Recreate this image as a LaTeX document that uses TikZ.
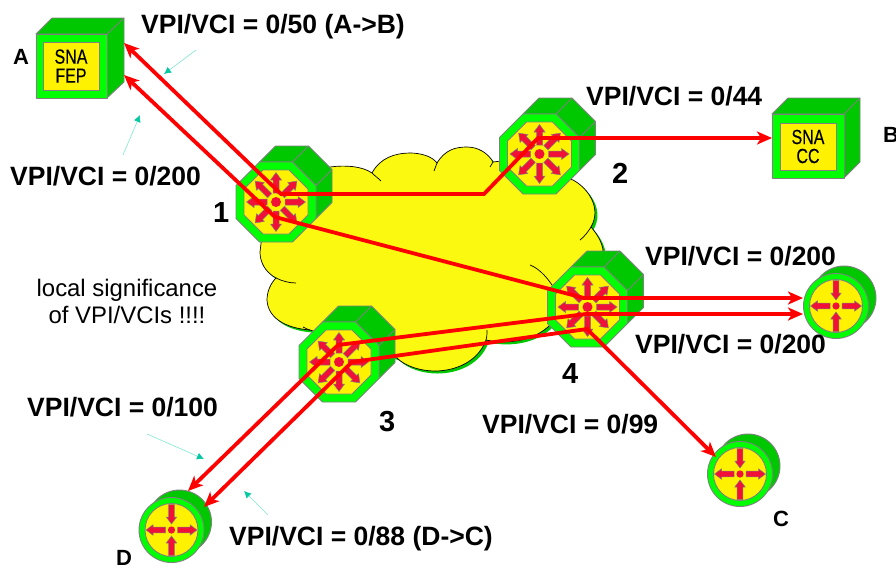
\documentclass[tikz,border=0pt]{standalone}
\usepackage{fontspec}
\setmainfont{Liberation Sans}
\newfontfamily\narrowfont[FakeStretch=0.78,FakeBold=0.35]{Liberation Sans}
\usetikzlibrary{arrows.meta,calc}
\definecolor{litegreen}{HTML}{00FF00}
\definecolor{darkgreen}{HTML}{00C800}
\definecolor{cloudyellow}{HTML}{FBF90F}
\definecolor{edgegray}{HTML}{808080}
\definecolor{iconred}{HTML}{F01038}
\definecolor{noteteal}{HTML}{00C8A0}
\definecolor{notelight}{HTML}{80E8D0}
\tikzset{
  edgeline/.style={draw=edgegray,line width=0.9pt,line join=round},
  iconarrow/.style={fill=iconred,draw=edgegray,line width=0.5pt,line join=miter},
  redtip/.tip={Stealth[length=15pt,width=13pt,inset=4pt]},
  circuit/.style={draw=red,line width=3.8pt,line join=miter,redtip-redtip},
  note/.style={draw=notelight,line width=0.6pt,-{Latex[length=7pt,width=7pt,color=noteteal]}},
  lab/.style={anchor=base west,inner sep=0pt,font=\fontsize{26.5}{26.5}\selectfont\bfseries},
  numlab/.style={anchor=base west,inner sep=0pt,font=\fontsize{29}{29}\selectfont\bfseries},
  letter/.style={anchor=base west,inner sep=0pt,font=\fontsize{22}{22}\selectfont\bfseries},
  plain/.style={anchor=base,inner sep=0pt,font=\fontsize{23.9}{24}\selectfont},
  boxtext/.style={align=center,inner sep=0pt,font=\fontsize{20.5}{19}\narrowfont},
  octswitch/.pic={
    \path[fill=darkgreen,edgeline] (-16.5,-40)--(-0.5,-56)--(32.5,-56)--(56,-32.5)--(56,0.5)--(40,16.5)--(40,-16.5)--(16.5,-40)--cycle;
    \draw[edgeline] (16.5,-40)--(32.5,-56) (40,-16.5)--(56,-32.5);
    \path[fill=litegreen,edgeline] (-16.5,-40)--(16.5,-40)--(40,-16.5)--(40,16.5)--(16.5,40)--(-16.5,40)--(-40,16.5)--(-40,-16.5)--cycle;
    \path[fill=yellow,edgeline] (-13,-32)--(13,-32)--(32,-13)--(32,13)--(13,32)--(-13,32)--(-32,13)--(-32,-13)--cycle;
    \foreach \a in {0,45,...,315}{
      \path[iconarrow,rotate=\a] (9,-3)--(22,-3)--(22,-5.5)--(29.5,0)--(22,5.5)--(22,3)--(9,3)--cycle;
    }
    \fill[iconred] (0,0) circle (5);
  },
  roundrouter/.pic={
    \path[fill=darkgreen,edgeline] (8,-8) circle (32);
    \path[fill=litegreen,edgeline] (0,0) circle (32.5);
    \path[fill=yellow,edgeline] (0,0) circle (26.5);
    \foreach \a in {0,180}{
      \path[iconarrow,rotate=\a] (6,-2.8)--(18.5,-2.8)--(18.5,-5.2)--(25.5,0)--(18.5,5.2)--(18.5,2.8)--(6,2.8)--cycle;
    }
    \foreach \a in {90,270}{
      \path[iconarrow,rotate=\a] (25.5,-2.8)--(13,-2.8)--(13,-5.2)--(6,0)--(13,5.2)--(13,2.8)--(25.5,2.8)--cycle;
    }
    \fill[iconred] (0,0) circle (3.6);
  },
}
\begin{document}
\begin{tikzpicture}[x=1pt,y=-1pt]
\useasboundingbox (0,0) rectangle (896,565);
% cloud
\def\cloudpath{
  (330,167) .. controls (345,165) and (362,166) .. (372,173)
  .. controls (380,158) and (395,153) .. (410,153)
  .. controls (420,153) and (432,156) .. (437,163)
  .. controls (445,150) and (455,147) .. (467,147)
  .. controls (478,147) and (488,153) .. (493,162)
  -- (510,160) -- (573,180)
  .. controls (588,188) and (602,208) .. (591,227)
  .. controls (598,235) and (602,243) .. (603,250)
  -- (590,300) -- (550,325)
  .. controls (535,340) and (510,345) .. (486,340)
  .. controls (478,362) and (455,371) .. (435,371)
  .. controls (420,371) and (405,366) .. (397,358)
  -- (340,340) -- (310,330)
  .. controls (285,328) and (268,318) .. (267,300)
  .. controls (267,291) and (271,283) .. (276,278)
  .. controls (265,272) and (260,262) .. (260,252)
  -- (262,235) -- (300,180) -- cycle}
\fill[darkgreen,shift={(2.5,2.5)}] \cloudpath;
\path[fill=cloudyellow,draw=black,line width=0.7pt] \cloudpath;
\draw[black,line width=0.7pt]
  (372,173) .. controls (375,176) and (378,178) .. (381,181)
  (437,163) .. controls (436,166) and (435,168) .. (434,171)
  (493,162) .. controls (492,164) and (491,165) .. (490,167)
  (591,227) .. controls (588,232) and (584,237) .. (580,240)
  (530,265) .. controls (538,268) and (546,276) .. (552,285)
  (276,278) .. controls (282,281) and (289,283) .. (296,283)
  (310,330) .. controls (308,329) and (306,329) .. (303,327)
  (486,340) .. controls (487,337) and (487,333) .. (487,330);
% devices
\coordinate (sw1) at (276,202);
\coordinate (sw2) at (539.5,154);
\coordinate (sw3) at (339,362);
\coordinate (sw4) at (587.5,307);
\pic at (sw1) {octswitch};
\pic at (sw2) {octswitch};
\pic at (sw3) {octswitch};
\pic at (sw4) {octswitch};
\coordinate (rtE) at (836,306);
\coordinate (rtC) at (740,474);
\coordinate (rtD) at (171.5,530);
\pic at (rtE) {roundrouter};
\pic at (rtC) {roundrouter};
\pic at (rtD) {roundrouter};
% SNA boxes
\path[fill=darkgreen,edgeline] (36,34)--(52,18)--(124,18)--(124,82)--(107,98)--(107,34)--cycle;
\draw[edgeline] (107,34)--(124,18);
\path[fill=litegreen,edgeline] (36,34) rectangle (107,98);
\node[fill=yellow,draw=edgegray,line width=0.9pt,minimum width=56pt,minimum height=48pt,inner sep=0pt] (fep) at (71,66) {};
\node[boxtext] (feptext) at (71,66) {SNA\\FEP};
\path[fill=darkgreen,edgeline] (772,114)--(788,98)--(860,98)--(860,162)--(844,178)--(844,114)--cycle;
\draw[edgeline] (844,114)--(860,98);
\path[fill=litegreen,edgeline] (772,114) rectangle (844,178);
\node[fill=yellow,draw=edgegray,line width=0.9pt,minimum width=56pt,minimum height=47pt,inner sep=0pt] (cc) at (808,146.5) {};
\node[boxtext] (cctext) at (808,146.5) {SNA\\CC};
% circuit ports
\coordinate (pA1) at (124,43);
\coordinate (pA2) at (124,75);
\coordinate (pB) at (772,138);
\coordinate (pE1) at (803,298);
\coordinate (pE2) at (803,314);
\coordinate (pC) at (716,457);
\coordinate (pD1) at (188,491);
\coordinate (pD2) at (204,507);
\coordinate (j1a) at (281,194);
\coordinate (j1b) at (484,194);
\coordinate (j2) at (538,138);
\coordinate (j1c) at (275,217);
\coordinate (j4a) at (584,298);
\coordinate (j3a) at (338,345);
\coordinate (j4b) at (586,314);
\coordinate (j3b) at (352,362);
\coordinate (j4c) at (587,329);
% circuits
\draw[circuit] (pA1) -- (j1a) -- (j1b) -- (j2) -- (pB);
\draw[circuit] (pA2) -- (j1c) -- (j4a) -- (pE1);
\draw[circuit] (pD1) -- (j3a) -- (j4b) -- (pE2);
\draw[circuit] (pD2) -- (j3b) -- (j4c) -- (pC);
% annotation arrows
\coordinate (n1s) at (196,50); \coordinate (n1e) at (164,74);
\coordinate (n2s) at (123,155); \coordinate (n2e) at (140,115);
\coordinate (n3s) at (147,434); \coordinate (n3e) at (204,459);
\coordinate (n4s) at (268,515); \coordinate (n4e) at (244,491);
\draw[note] (n1s) -- (n1e);
\draw[note] (n2s) -- (n2e);
\draw[note] (n3s) -- (n3e);
\draw[note] (n4s) -- (n4e);
% labels
\node[lab] (l50) at (141,33) {VPI/VCI = 0/50 (A->B)};
\node[lab] (l200a) at (10,185) {VPI/VCI = 0/200};
\node[lab] (l44) at (586,105) {VPI/VCI = 0/44};
\node[lab] (l200b) at (645,265) {VPI/VCI = 0/200};
\node[lab] (l200c) at (635,353) {VPI/VCI = 0/200};
\node[lab] (l99) at (482,433) {VPI/VCI = 0/99};
\node[lab] (l100) at (27,416) {VPI/VCI = 0/100};
\node[lab] (l88) at (229,545) {VPI/VCI = 0/88 (D->C)};
\node[numlab] (n1) at (213,222) {1};
\node[numlab] (n2) at (612,183) {2};
\node[numlab] (n3) at (379,431) {3};
\node[numlab] (n4) at (562,383) {4};
\node[letter] (la) at (13,64) {A};
\node[letter] (lb) at (883,142) {B};
\node[letter] (lc) at (773,526) {C};
\node[letter] (ld) at (116,565) {D};
\node[plain] (t1) at (127,296) {local significance};
\node[plain] (t2) at (127,323) {of VPI/VCIs !!!!};
\end{tikzpicture}
\end{document}
